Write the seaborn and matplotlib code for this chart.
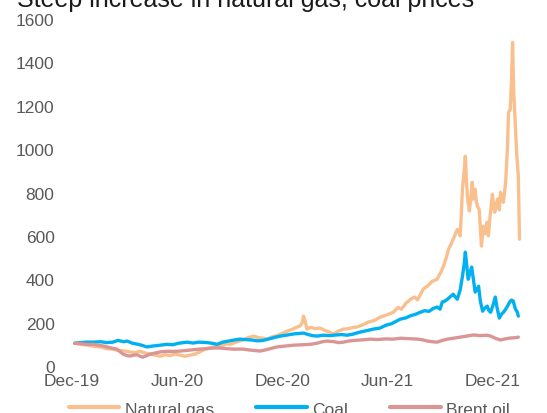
import pandas as pd
import matplotlib
matplotlib.use('Agg')
import matplotlib.pyplot as plt
import seaborn as sns

# index values, Dec 2019 = 100; days counted from the start date
start = '2019-12-01'

gas_days = [5, 15, 25, 35, 49, 60, 70, 80, 90, 101, 110, 118, 127, 135, 145, 153, 162, 170,
            179, 188, 196, 205, 214, 222, 231, 240, 250, 260, 268, 275, 285, 295, 305, 315,
            325, 332, 339, 348, 356, 365, 374, 383, 391, 396, 400, 402, 405, 408, 415, 422,
            431, 438, 446, 454, 462, 471, 480, 488, 495, 505, 515, 525, 535, 546, 558, 566,
            572, 580, 588, 595, 600, 610, 618, 625, 634, 640, 645, 650, 654, 658, 662, 666,
            669, 672, 674, 676, 678, 681, 683, 685, 687, 690, 692, 695, 697, 700, 702, 704,
            707, 709, 711, 714, 717, 721, 723, 726, 730, 732, 734, 737, 739, 742, 744, 746,
            749, 751, 753, 756, 758, 761, 763, 765, 767, 770, 772, 775, 777]
gas_vals = [105, 100, 97, 92, 88, 80, 78, 72, 70, 65, 62, 68, 60, 55, 50, 45, 52, 48,
            55, 50, 45, 50, 55, 65, 78, 85, 90, 95, 102, 100, 110, 118, 130, 138,
            130, 128, 124, 135, 140, 150, 161, 170, 180, 185, 200, 230, 205, 170, 178, 172,
            175, 165, 158, 147, 160, 170, 172, 178, 180, 190, 203, 210, 225, 235, 248, 270,
            262, 290, 308, 318, 305, 355, 370, 390, 400, 430, 460, 500, 540, 560, 585, 610,
            630, 620, 600, 700, 815, 900, 967, 850, 770, 715, 760, 847, 770, 815, 760, 737,
            722, 640, 553, 645, 610, 663, 600, 690, 792, 740, 709, 750, 770, 720, 801, 780,
            755, 800, 847, 1000, 1170, 1183, 1300, 1492, 1261, 1100, 985, 875, 585]

coal_days = [5, 15, 25, 37, 50, 60, 71, 80, 90, 96, 105, 115, 122, 130, 140, 150, 165, 175,
             185, 200, 210, 220, 235, 245, 252, 262, 272, 282, 292, 300, 312, 322, 332, 342,
             352, 362, 374, 385, 395, 402, 410, 418, 426, 437, 448, 458, 468, 478, 488, 498,
             510, 523, 535, 545, 555, 562, 570, 580, 588, 596, 605, 612, 620, 627, 634, 639,
             643, 648, 652, 657, 662, 665, 669, 674, 678, 681, 683, 686, 688, 691, 694, 697,
             700, 703, 706, 709, 713, 716, 721, 724, 727, 731, 735, 738, 742, 746, 750, 753,
             757, 760, 763, 766, 770, 773, 775]
coal_vals = [105, 108, 110, 110, 112, 108, 110, 118, 112, 115, 105, 100, 95, 88, 92, 95, 100, 98,
             105, 110, 106, 110, 108, 104, 100, 110, 115, 120, 124, 122, 120, 116, 118, 125,
             132, 138, 143, 148, 150, 152, 145, 140, 138, 142, 140, 143, 145, 142, 147, 155,
             162, 170, 175, 188, 195, 205, 216, 222, 232, 238, 248, 255, 252, 265, 272, 262,
             295, 300, 308, 320, 331, 320, 308, 350, 414, 470, 525, 450, 400, 430, 456, 400,
             341, 350, 368, 300, 253, 265, 276, 255, 248, 280, 318, 270, 221, 240, 250, 262,
             280, 295, 304, 300, 262, 250, 230]

brent_days = [5, 15, 25, 37, 48, 55, 61, 70, 78, 84, 89, 95, 101, 107, 113, 118, 123, 130,
              136, 145, 153, 165, 176, 188, 200, 210, 222, 235, 245, 257, 268, 280, 297, 305,
              315, 327, 337, 347, 356, 370, 385, 400, 414, 425, 435, 443, 455, 463, 471, 480,
              490, 501, 510, 518, 530, 545, 558, 570, 585, 600, 610, 617, 626, 634, 643, 652,
              662, 674, 685, 697, 710, 720, 727, 735, 744, 752, 761, 768, 775]
brent_vals = [105, 103, 100, 100, 95, 92, 88, 82, 78, 65, 55, 48, 46, 50, 52, 45, 41, 48,
              55, 60, 65, 68, 67, 69, 72, 75, 78, 80, 83, 83, 80, 78, 78, 75,
              72, 69, 75, 82, 88, 92, 96, 98, 100, 105, 112, 115, 112, 108, 110, 115,
              118, 120, 122, 124, 122, 125, 124, 128, 126, 124, 120, 115, 112, 110, 118, 124,
              128, 133, 138, 143, 140, 142, 138, 128, 120, 125, 129, 130, 133]

series = ['Natural gas', 'Coal', 'Brent oil']
colors = ['#F9C08E', '#00B0F0', '#D99694']
tick_dates = ['2019-12-01', '2020-06-01', '2020-12-01', '2021-06-01', '2021-12-01']
tick_labels = ['Dec-19', 'Jun-20', 'Dec-20', 'Jun-21', 'Dec-21']

frames = []
for name, d, v in zip(series, [gas_days, coal_days, brent_days], [gas_vals, coal_vals, brent_vals]):
    frames.append(pd.DataFrame({
        'date': pd.to_datetime(start) + pd.to_timedelta(d, unit='D'),
        'value': v,
        'series': name,
    }))
df = pd.concat(frames, ignore_index=True)

sns.set_style('white')
plt.rcParams['font.family'] = ['Liberation Sans', 'DejaVu Sans']

fig = plt.figure(figsize=(5.47, 4.14), dpi=100)
ax = fig.add_axes([0.1252, 0.1135, 0.8287, 0.8382])

sns.lineplot(data=df, x='date', y='value', hue='series', hue_order=series,
             palette=colors, linewidth=2.4, ax=ax, legend=False)

ax.set_xlim(pd.Timestamp('2019-11-25'), pd.Timestamp('2022-01-20'))
ax.set_ylim(0, 1600)
ax.set_yticks(range(0, 1601, 200))
ax.set_xticks(pd.to_datetime(tick_dates))
ax.set_xticklabels(tick_labels)
ax.set_xlabel('')
ax.set_ylabel('')
for s in ax.spines.values():
    s.set_visible(False)
ax.tick_params(axis='both', length=0, labelsize=12.5, labelcolor='#595959')
ax.tick_params(axis='x', pad=5)
ax.tick_params(axis='y', pad=10)

fig.text(17 / 547, 1 - 7 / 414, 'Steep increase in natural gas, coal prices',
         fontsize=18, color='#1a1a1a', va='baseline', ha='left')

handles = [plt.Line2D([], [], color=c, linewidth=3) for c in colors]
fig.legend(handles, series, loc='center', bbox_to_anchor=(0.529, 1 - 410 / 414),
           ncol=3, frameon=False, fontsize=12.5, handlelength=2.9,
           handletextpad=0.3, columnspacing=2.45, labelcolor='#595959')

fig.savefig('out.png', dpi=100)
